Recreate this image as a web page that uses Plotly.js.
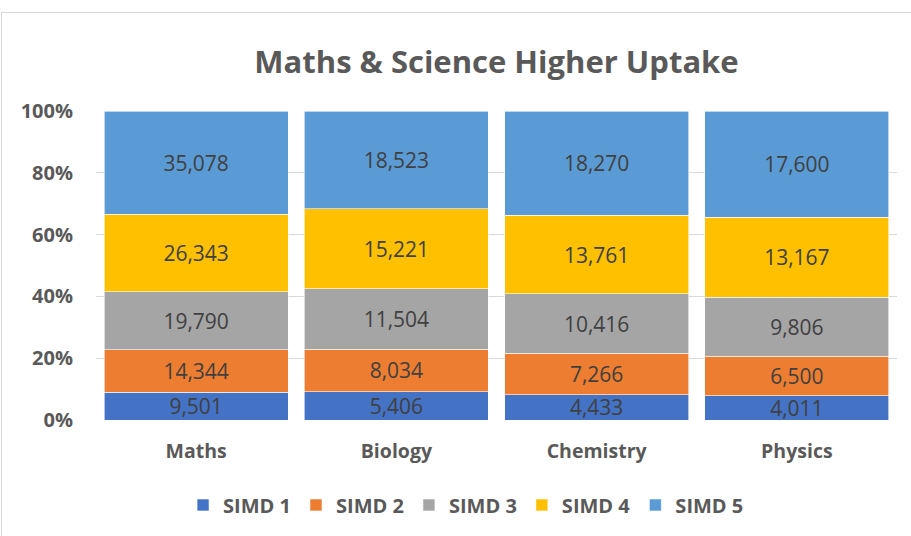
<!DOCTYPE html>
<html>
<head>
<meta charset="utf-8">
<script src="https://cdn.plot.ly/plotly-3.0.1.min.js"></script>
<style>
html,body{margin:0;padding:0;background:#fff;}
#frame{position:absolute;left:1px;top:12px;width:920px;height:540px;border:1px solid #D9D9D9;box-sizing:border-box;}
#chart{position:absolute;left:0;top:0;width:911px;height:536px;}
</style>
</head>
<body>
<div id="frame"></div>
<div id="chart"></div>
<script>
const categories = ["Maths", "Biology", "Chemistry", "Physics"];
const seriesNames = ["SIMD 1", "SIMD 2", "SIMD 3", "SIMD 4", "SIMD 5"];
const simd1 = [9501, 5406, 4433, 4011];
const simd2 = [14344, 8034, 7266, 6500];
const simd3 = [19790, 11504, 10416, 9806];
const simd4 = [26343, 15221, 13761, 13167];
const simd5 = [35078, 18523, 18270, 17600];
const yTicks = [0, 20, 40, 60, 80, 100];
const colors = ["#4472C4", "#ED7D31", "#A5A5A5", "#FFC000", "#5B9BD5"];

const allSeries = [simd1, simd2, simd3, simd4, simd5];
const fmt = v => v.toLocaleString("en-US");

const traces = allSeries.map((vals, i) => ({
  type: "bar",
  name: seriesNames[i],
  x: categories,
  y: vals,
  text: vals.map(fmt),
  textposition: "inside",
  insidetextanchor: "middle",
  textangle: 0,
  constraintext: "none",
  textfont: {family: "Open Sans", size: 21, color: "#404040"},
  marker: {color: colors[i], line: {color: "#FFFFFF", width: 0.6}},
  hoverinfo: "skip"
}));

const layout = {
  width: 911,
  height: 536,
  paper_bgcolor: "rgba(0,0,0,0)",
  plot_bgcolor: "rgba(0,0,0,0)",
  margin: {l: 96, r: 14, t: 111, b: 116},
  barmode: "stack",
  barnorm: "percent",
  bargap: 0.08,
  uniformtext: {mode: "show", minsize: 21},
  title: {
    text: "<b>Maths & Science Higher Uptake</b>",
    font: {family: "Open Sans", size: 31, color: "#595959"},
    x: 0.5, xref: "paper", xanchor: "center",
    y: 0.884, yref: "container", yanchor: "middle"
  },
  xaxis: {
    type: "category",
    showgrid: false,
    showline: false,
    zeroline: false,
    ticks: "outside",
    ticklen: 14,
    tickcolor: "rgba(0,0,0,0)",
    tickfont: {family: "Open Sans", size: 19.5, color: "#595959", weight: "bold"}
  },
  yaxis: {
    range: [0, 100],
    tickvals: yTicks,
    ticktext: yTicks.map(v => v + "%"),
    showgrid: true,
    gridcolor: "#D9D9D9",
    gridwidth: 1,
    zeroline: false,
    showline: false,
    ticks: "outside",
    ticklen: 18,
    tickcolor: "rgba(0,0,0,0)",
    tickfont: {family: "Open Sans", size: 20, color: "#595959", weight: "bold"}
  },
  showlegend: true,
  legend: {
    orientation: "h",
    x: 0.462, xanchor: "center",
    y: -0.275, yanchor: "middle",
    traceorder: "normal",
    font: {family: "Open Sans", size: 20, color: "#595959", weight: "bold"},
    itemclick: false
  }
};

Plotly.newPlot("chart", traces, layout, {displayModeBar: false, staticPlot: true});
</script>
</body>
</html>
